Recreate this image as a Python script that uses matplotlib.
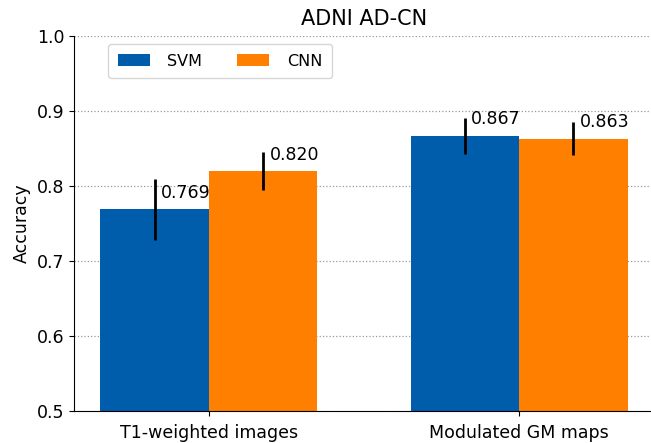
import numpy as np
import matplotlib.pyplot as plt

groups = ["T1-weighted images", "Modulated GM maps"]
svm_acc = [0.769, 0.867]
svm_err = [0.041, 0.024]
cnn_acc = [0.820, 0.863]
cnn_err = [0.025, 0.022]

svm_color = "#005dab"
cnn_color = "#ff7f00"

plt.rcParams["font.size"] = 12.5

fig = plt.figure(figsize=(6.51, 4.43), dpi=100)
ax = fig.add_axes([0.1137, 0.0722, 0.8909, 0.8465])

x = np.arange(len(groups))
w = 0.35

ax.bar(x - w / 2, svm_acc, w, color=svm_color, label="SVM", zorder=2)
ax.bar(x + w / 2, cnn_acc, w, color=cnn_color, label="CNN", zorder=2)
ax.errorbar(x - w / 2, svm_acc, yerr=svm_err, fmt="none", ecolor="black", elinewidth=2, zorder=3)
ax.errorbar(x + w / 2, cnn_acc, yerr=cnn_err, fmt="none", ecolor="black", elinewidth=2, zorder=3)

# value labels just right of the error bar
for xs, vals in [(x - w / 2, svm_acc), (x + w / 2, cnn_acc)]:
    for xi, v in zip(xs, vals):
        ax.text(xi + 0.02, v + 0.01, f"{v:.3f}", ha="left", va="bottom", fontsize=12.5)

ax.set_ylim(0.5, 1.0)
ax.set_xlim(-0.435, 1.435)
ax.set_xticks(x)
ax.set_xticklabels(groups)
ax.tick_params(axis="x", pad=6)
ax.set_yticks(np.arange(0.5, 1.01, 0.1))
ax.set_ylabel("Accuracy")
ax.set_title("ADNI AD-CN", fontsize=15, pad=8)
ax.yaxis.grid(True, linestyle=":", color="#999999", linewidth=0.9, zorder=0)
ax.set_axisbelow(True)
ax.spines["top"].set_visible(False)
ax.spines["right"].set_visible(False)

ax.legend(loc="upper left", ncol=2, bbox_to_anchor=(0.045, 1.0), fontsize=11.5,
          columnspacing=2.2, handletextpad=1.1, borderpad=0.6, handleheight=0.8)

plt.savefig("out.png", dpi=100)
